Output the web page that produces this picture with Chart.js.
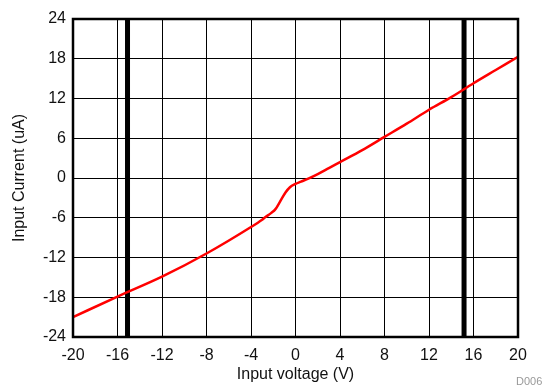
<!DOCTYPE html>
<html>
<head>
<meta charset="utf-8">
<script src="https://cdn.jsdelivr.net/npm/chart.js@4/dist/chart.umd.min.js"></script>
<style>
    html, body { margin: 0; padding: 0; background: #fff; }
    #wrap { width: 542px; height: 387px; position: relative; }
</style>
</head>
<body>
<div id="wrap"><canvas id="chart"></canvas></div>
<script>
// input voltage (V) vs input current (uA)
var voltage = [-20, -16, -12, -8, -4, -3, -2.7, -2.2, -1.8, -1.4, -0.9, -0.5, 0, 0.5, 1.2, 2, 3, 4, 6, 8, 10, 12, 14, 16, 18, 20];
var current = [-21.0, -17.9, -14.9, -11.4, -7.4, -6.3, -5.9, -5.3, -4.7, -3.6, -2.2, -1.4, -0.9, -0.55, -0.05, 0.6, 1.5, 2.4, 4.2, 6.2, 8.2, 10.3, 12.2, 14.3, 16.3, 18.3];

// supply rails, drawn as heavy vertical lines
var railVoltages = [-15.1, 15.15];

var xTicks = [-20, -16, -12, -8, -4, 0, 4, 8, 12, 16, 20];
var yTicks = [-24, -18, -12, -6, 0, 6, 12, 18, 24];

var fontFamily = "'Liberation Sans', Arial, sans-serif";

var curve = [];
for (var i = 0; i < voltage.length; i++) {
    curve.push({x: voltage[i], y: current[i]});
}

var datasets = [{
    data: curve,
    borderColor: '#ff0000',
    borderWidth: 2.5,
    pointRadius: 0,
    cubicInterpolationMode: 'monotone',
    order: 0
}];

for (var r = 0; r < railVoltages.length; r++) {
    datasets.push({
        data: [{x: railVoltages[r], y: yTicks[0]}, {x: railVoltages[r], y: yTicks[yTicks.length - 1]}],
        borderColor: '#000',
        borderWidth: 5,
        pointRadius: 0,
        order: 1
    });
}

// frame round the plot + the figure id in the corner
var framePlugin = {
    id: 'frame',
    afterDatasetsDraw: function(chart) {
        var a = chart.chartArea, ctx = chart.ctx;
        ctx.save();
        ctx.strokeStyle = '#000';
        ctx.lineWidth = 2.5;
        ctx.strokeRect(a.left, a.top, a.right - a.left, a.bottom - a.top);
        ctx.fillStyle = '#999';
        ctx.font = '11px ' + fontFamily;
        ctx.textBaseline = 'middle';
        ctx.fillText('D006', 516, 382);
        ctx.restore();
    }
};

var config = {
    type: 'line',
    data: { datasets: datasets },
    options: {
        responsive: true,
        maintainAspectRatio: false,
        animation: false,
        layout: { padding: { left: 0, right: 24, top: 19, bottom: 0 } },
        plugins: {
            legend: { display: false },
            tooltip: { enabled: false }
        },
        scales: {
            x: {
                type: 'linear',
                min: xTicks[0],
                max: xTicks[xTicks.length - 1],
                afterBuildTicks: function(scale) {
                    scale.ticks = xTicks.map(function(v) { return {value: v}; });
                },
                afterFit: function(scale) { scale.height = 50; },
                grid: { color: '#000', lineWidth: 1, drawTicks: false },
                border: { display: false },
                ticks: { color: '#111', padding: 9, maxRotation: 0, font: { family: fontFamily, size: 16 } },
                title: {
                    display: true,
                    text: 'Input voltage (V)',
                    color: '#111',
                    padding: { top: 0, bottom: 3 },
                    font: { family: fontFamily, size: 16 }
                }
            },
            y: {
                type: 'linear',
                min: yTicks[0],
                max: yTicks[yTicks.length - 1],
                afterBuildTicks: function(scale) {
                    scale.ticks = yTicks.map(function(v) { return {value: v}; });
                },
                afterFit: function(scale) { scale.width = 73; },
                grid: { color: '#000', lineWidth: 1, drawTicks: false },
                border: { display: false },
                ticks: { color: '#111', padding: 7, font: { family: fontFamily, size: 16 } },
                title: {
                    display: true,
                    text: 'Input Current (uA)',
                    color: '#111',
                    padding: { top: 10, bottom: 0 },
                    font: { family: fontFamily, size: 16 }
                }
            }
        }
    },
    plugins: [framePlugin]
};

new Chart(document.getElementById('chart'), config);
</script>
</body>
</html>
